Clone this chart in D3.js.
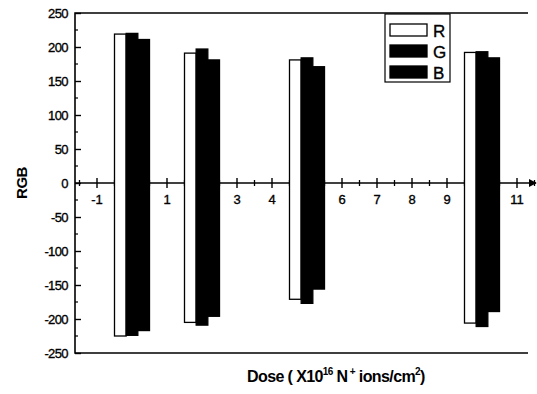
<html>
<head>
    <meta charset="utf-8">
    <title>RGB vs Dose</title>
    <style>
        body { margin: 0; background: #fff; }
        text { font-family: "Liberation Sans", Arial, sans-serif; fill: #000; }
        .tick-label { stroke: #000; stroke-width: 0.35; }
    </style>
</head>
<body>
    <script src="https://cdn.jsdelivr.net/npm/d3@7/dist/d3.min.js" charset="utf-8"></script>
    <script>
        var width = 537;
        var height = 394;

        // data
        var doses = [0, 2, 5, 10];
        var series = ["R", "G", "B"];
        var rTop = [219, 191, 181, 192];
        var gTop = [220, 197, 184, 193];
        var bTop = [211, 181, 171, 184];
        var rBottom = [-225, -205, -171, -206];
        var gBottom = [-224, -209, -177, -211];
        var bBottom = [-217, -196, -156, -189];
        var yTicks = [250, 200, 150, 100, 50, 0, -50, -100, -150, -200, -250];
        var xTicks = [-1, 0, 1, 2, 3, 4, 5, 6, 7, 8, 9, 10, 11];

        var tops = [rTop, gTop, bTop];
        var bottoms = [rBottom, gBottom, bBottom];
        var fills = ["#fff", "#000", "#000"];

        var plotL = 75, plotR = 528, plotT = 13, plotB = 353;

        var x = d3.scaleLinear().domain([-1, 11]).range([97, 517]);
        var y = d3.scaleLinear().domain([-250, 250]).range([plotB, plotT]);
        var barW = (x(1) - x(0)) / 3;

        var svg = d3.select("body")
            .append("svg")
            .attr("width", width)
            .attr("height", height);

        // frame: left, top, bottom
        svg.append("path")
            .attr("d", "M" + plotR + "," + plotT + "H" + plotL + "V" + plotB + "H" + plotR)
            .attr("fill", "none")
            .attr("stroke", "#000")
            .attr("stroke-width", 1.6);

        // y ticks (inside) + minors
        var yAxis = d3.axisRight(y)
            .tickValues(yTicks)
            .tickSize(6)
            .tickFormat("");
        svg.append("g")
            .attr("transform", "translate(" + plotL + ",0)")
            .call(yAxis)
            .call(function (g) { g.select(".domain").remove(); })
            .selectAll("line").attr("stroke-width", 1.4);
        var yMinor = d3.range(-225, 250, 50);
        svg.append("g").selectAll("line")
            .data(yMinor)
            .enter()
            .append("line")
            .attr("x1", plotL).attr("x2", plotL + 3)
            .attr("y1", function (d) { return y(d); })
            .attr("y2", function (d) { return y(d); })
            .attr("stroke", "#000")
            .attr("stroke-width", 1.2);
        svg.append("g").selectAll("text")
            .data(yTicks)
            .enter()
            .append("text")
            .attr("class", "tick-label")
            .attr("x", plotL - 7)
            .attr("y", function (d) { return y(d) + 4.5; })
            .attr("text-anchor", "end")
            .attr("font-size", 13)
            .attr("letter-spacing", -0.6)
            .text(function (d) { return d; });

        // zero axis with arrow
        svg.append("defs").append("marker")
            .attr("id", "arrow")
            .attr("viewBox", "0 0 10 10")
            .attr("refX", 9).attr("refY", 5)
            .attr("markerWidth", 5).attr("markerHeight", 5)
            .attr("orient", "auto")
            .append("path")
            .attr("d", "M0,0L10,5L0,10z")
            .attr("fill", "#000");
        svg.append("line")
            .attr("x1", plotL).attr("x2", 536)
            .attr("y1", y(0)).attr("y2", y(0))
            .attr("stroke", "#000")
            .attr("stroke-width", 1.6)
            .attr("marker-end", "url(#arrow)");
        svg.append("g").selectAll("line")
            .data(xTicks)
            .enter()
            .append("line")
            .attr("x1", function (d) { return x(d); })
            .attr("x2", function (d) { return x(d); })
            .attr("y1", y(0) - 5).attr("y2", y(0) + 5)
            .attr("stroke", "#000")
            .attr("stroke-width", 1.4);
        var xMinor = d3.range(-1.5, 11.6, 1);
        svg.append("g").selectAll("line")
            .data(xMinor)
            .enter()
            .append("line")
            .attr("x1", function (d) { return x(d); })
            .attr("x2", function (d) { return x(d); })
            .attr("y1", y(0) - 3).attr("y2", y(0) + 3)
            .attr("stroke", "#000")
            .attr("stroke-width", 1.3);
        svg.append("g").selectAll("text")
            .data(xTicks)
            .enter()
            .append("text")
            .attr("class", "tick-label")
            .attr("x", function (d) { return x(d); })
            .attr("y", y(0) + 21)
            .attr("text-anchor", "middle")
            .attr("font-size", 13)
            .text(function (d) { return d; });

        // bars
        series.forEach(function (s, k) {
            svg.append("g").selectAll("rect")
                .data(doses)
                .enter()
                .append("rect")
                .attr("x", function (d) { return x(d) + (k - 1.5) * barW; })
                .attr("y", function (d, i) { return y(tops[k][i]); })
                .attr("width", barW)
                .attr("height", function (d, i) { return y(bottoms[k][i]) - y(tops[k][i]); })
                .attr("fill", fills[k])
                .attr("stroke", "#000")
                .attr("stroke-width", 1.3);
        });

        // legend
        var lg = svg.append("g");
        lg.append("rect")
            .attr("x", 385).attr("y", 14)
            .attr("width", 65).attr("height", 68)
            .attr("fill", "#fff")
            .attr("stroke", "#000")
            .attr("stroke-width", 1.2);
        series.forEach(function (s, k) {
            lg.append("rect")
                .attr("x", 390).attr("y", 24 + k * 21)
                .attr("width", 37).attr("height", 12)
                .attr("fill", fills[k])
                .attr("stroke", "#000")
                .attr("stroke-width", 1.3);
            lg.append("text")
                .attr("class", "tick-label")
                .attr("x", 433).attr("y", 37 + k * 21)
                .attr("font-size", 17)
                .text(s);
        });

        // axis titles
        svg.append("text")
            .attr("transform", "translate(27," + y(0) + ") rotate(-90)")
            .attr("text-anchor", "middle")
            .attr("font-size", 15)
            .attr("font-weight", "bold")
            .attr("letter-spacing", -0.5)
            .text("RGB");

        var xt = svg.append("text")
            .attr("x", 247).attr("y", 382)
            .attr("font-size", 16)
            .attr("font-weight", "bold")
            .attr("letter-spacing", -0.6);
        xt.append("tspan").text("Dose ( X10");
        xt.append("tspan").attr("dy", -7).attr("font-size", 10).text("16");
        xt.append("tspan").attr("dy", 7).text(" N");
        xt.append("tspan").attr("dy", -7).attr("font-size", 10).text(" +");
        xt.append("tspan").attr("dy", 7).text(" ions/cm");
        xt.append("tspan").attr("dy", -7).attr("font-size", 10).text("2");
        xt.append("tspan").attr("dy", 7).text(")");
    </script>
</body>
</html>
